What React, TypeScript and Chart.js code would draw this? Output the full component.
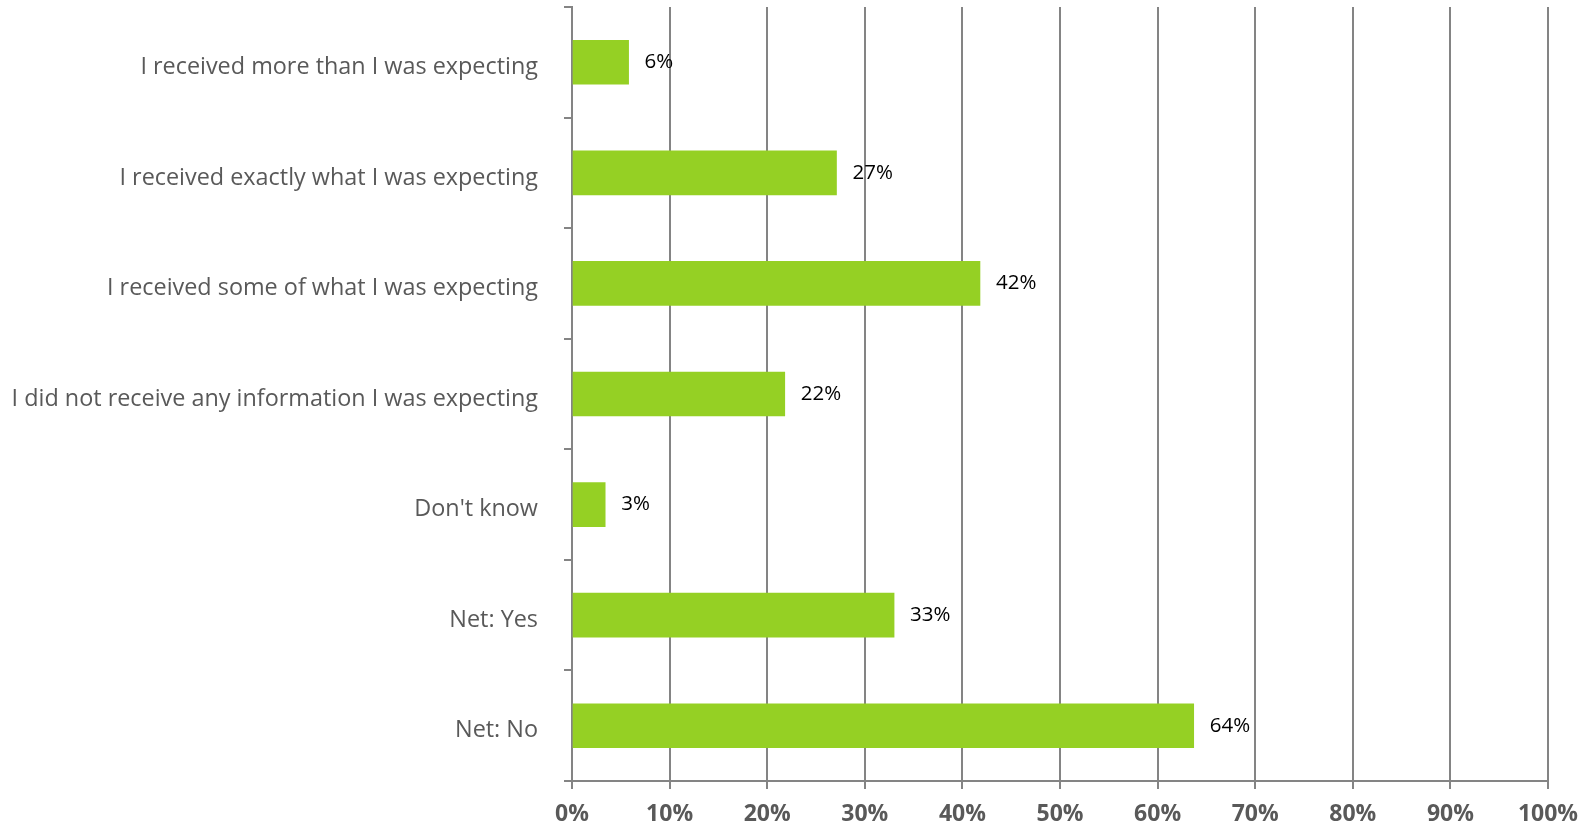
import React, { useEffect, useRef } from "react";
import { Chart, registerables } from "chart.js";

Chart.register(...registerables);

const categories = [
  "I received more than I was expecting",
  "I received exactly what I was expecting",
  "I received some of what I was expecting",
  "I did not receive any information I was expecting",
  "Don't know",
  "Net: Yes",
  "Net: No",
];
const values = [5.8, 27.1, 41.8, 21.8, 3.4, 33.0, 63.7];
const valueLabels = ["6%", "27%", "42%", "22%", "3%", "33%", "64%"];

const FONT = "'Open Sans', 'Noto Sans', sans-serif";

const dataLabelPlugin = {
  id: "dataLabels",
  afterDatasetsDraw(chart: any) {
    const ctx = chart.ctx;
    const meta = chart.getDatasetMeta(0);
    ctx.save();
    ctx.font = `20.5px ${FONT}`;
    ctx.fillStyle = "#000000";
    ctx.textAlign = "left";
    ctx.textBaseline = "middle";
    meta.data.forEach((bar: any, i: number) => {
      ctx.fillText(valueLabels[i], bar.x + 16, bar.y);
    });
    ctx.restore();
  },
};

export default function App() {
  const ref = useRef<HTMLCanvasElement | null>(null);
  useEffect(() => {
    if (!ref.current) return;
    const chart = new Chart(ref.current, {
      type: "bar",
      data: {
        labels: categories,
        datasets: [
          {
            data: values,
            backgroundColor: "#95D024",
            barThickness: 44,
          },
        ],
      },
      options: {
        indexAxis: "y",
        animation: false,
        responsive: false,
        devicePixelRatio: 1,
        layout: { padding: { top: 7, right: 47, left: 0, bottom: 0 } },
        plugins: { legend: { display: false }, tooltip: { enabled: false } },
        scales: {
          x: {
            min: 0,
            max: 100,
            afterFit(scale: any) {
              scale.height = 45;
            },
            ticks: {
              stepSize: 10,
              callback: (v: any) => v + "%",
              color: "#595959",
              font: { family: FONT, size: 23, weight: "bold" },
              padding: 12,
              maxRotation: 0,
            },
            grid: {
              color: "#848484",
              lineWidth: 2,
              tickLength: 8,
              drawTicks: true,
            },
            border: { display: true, color: "#848484", width: 2 },
          },
          y: {
            afterFit(scale: any) {
              scale.width = 572;
              scale.paddingTop = 0;
              scale.paddingBottom = 0;
            },
            ticks: {
              color: "#595959",
              font: { family: FONT, size: 23.4 },
              padding: 26,
              labelOffset: 5,
            },
            grid: {
              offset: true,
              drawOnChartArea: false,
              drawTicks: true,
              tickLength: 8,
              color: "#848484",
              lineWidth: 2,
            },
            border: { display: true, color: "#848484", width: 2 },
          },
        },
      },
      plugins: [dataLabelPlugin],
    });
    return () => chart.destroy();
  }, []);
  return (
    <div style={{ position: "fixed", left: 0, top: 0, width: 1595, height: 826, background: "#fff" }}>
      <canvas ref={ref} width={1595} height={826} style={{ width: 1595, height: 826 }} />
    </div>
  );
}
